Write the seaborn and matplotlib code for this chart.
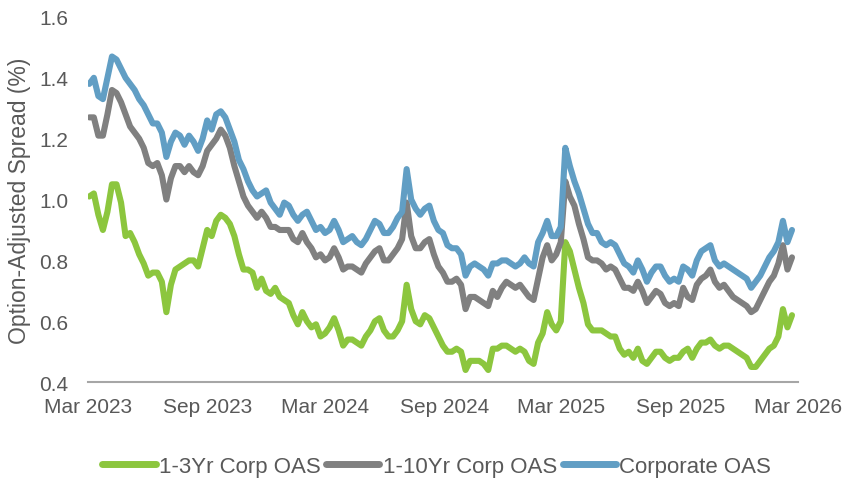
import pandas as pd
import matplotlib.pyplot as plt
import matplotlib.dates as mdates
import seaborn as sns

# weekly readings, Mar 2023 - Feb 2026
short_oas = [1.01, 1.02, 0.95, 0.90, 0.96, 1.05, 1.05, 0.99, 0.88, 0.89,
             0.86, 0.82, 0.79, 0.75, 0.76, 0.76, 0.73, 0.63, 0.72, 0.77,
             0.78, 0.79, 0.80, 0.80, 0.78, 0.84, 0.90, 0.88, 0.93, 0.95,
             0.94, 0.92, 0.88, 0.82, 0.77, 0.77, 0.76, 0.71, 0.74, 0.70,
             0.69, 0.71, 0.68, 0.67, 0.66, 0.62, 0.59, 0.63, 0.60, 0.58,
             0.59, 0.55, 0.56, 0.58, 0.61, 0.57, 0.52, 0.54, 0.54, 0.53,
             0.52, 0.55, 0.57, 0.60, 0.61, 0.57, 0.55, 0.55, 0.57, 0.60,
             0.72, 0.64, 0.60, 0.59, 0.62, 0.61, 0.58, 0.55, 0.52, 0.50,
             0.50, 0.51, 0.50, 0.44, 0.47, 0.47, 0.47, 0.46, 0.44, 0.51,
             0.51, 0.52, 0.52, 0.51, 0.50, 0.51, 0.50, 0.47, 0.46, 0.53,
             0.56, 0.63, 0.59, 0.57, 0.60, 0.86, 0.83, 0.77, 0.71, 0.66,
             0.59, 0.57, 0.57, 0.57, 0.56, 0.55, 0.55, 0.51, 0.49, 0.50,
             0.48, 0.51, 0.47, 0.46, 0.48, 0.50, 0.50, 0.48, 0.47, 0.48,
             0.48, 0.50, 0.51, 0.48, 0.51, 0.53, 0.53, 0.54, 0.52, 0.51,
             0.52, 0.52, 0.51, 0.50, 0.49, 0.48, 0.45, 0.45, 0.47, 0.49,
             0.51, 0.52, 0.55, 0.64, 0.58, 0.62]

mid_oas = [1.27, 1.27, 1.21, 1.21, 1.28, 1.36, 1.35, 1.32, 1.28, 1.24,
           1.22, 1.20, 1.17, 1.12, 1.11, 1.12, 1.08, 1.00, 1.07, 1.11,
           1.11, 1.09, 1.11, 1.09, 1.08, 1.11, 1.16, 1.18, 1.20, 1.23,
           1.21, 1.17, 1.11, 1.06, 1.01, 0.98, 0.96, 0.94, 0.96, 0.94,
           0.91, 0.91, 0.90, 0.90, 0.90, 0.87, 0.86, 0.89, 0.86, 0.84,
           0.81, 0.82, 0.80, 0.81, 0.84, 0.81, 0.77, 0.78, 0.78, 0.77,
           0.76, 0.79, 0.81, 0.83, 0.84, 0.80, 0.80, 0.82, 0.84, 0.87,
           0.99, 0.88, 0.84, 0.84, 0.86, 0.87, 0.82, 0.78, 0.76, 0.73,
           0.73, 0.74, 0.72, 0.64, 0.68, 0.68, 0.67, 0.66, 0.65, 0.70,
           0.68, 0.71, 0.73, 0.72, 0.71, 0.72, 0.70, 0.68, 0.67, 0.74,
           0.81, 0.85, 0.80, 0.82, 0.86, 1.06, 1.01, 0.98, 0.92, 0.87,
           0.81, 0.80, 0.80, 0.79, 0.77, 0.78, 0.77, 0.74, 0.71, 0.71,
           0.70, 0.73, 0.70, 0.66, 0.68, 0.70, 0.69, 0.66, 0.65, 0.66,
           0.65, 0.71, 0.68, 0.67, 0.72, 0.74, 0.75, 0.77, 0.73, 0.71,
           0.72, 0.70, 0.68, 0.67, 0.66, 0.65, 0.63, 0.64, 0.67, 0.70,
           0.73, 0.75, 0.79, 0.85, 0.77, 0.81]

corp_oas = [1.38, 1.40, 1.34, 1.33, 1.40, 1.47, 1.46, 1.43, 1.40, 1.38,
            1.36, 1.33, 1.31, 1.28, 1.25, 1.25, 1.22, 1.14, 1.19, 1.22,
            1.21, 1.18, 1.21, 1.19, 1.16, 1.20, 1.26, 1.23, 1.28, 1.29,
            1.27, 1.23, 1.19, 1.13, 1.10, 1.06, 1.03, 1.01, 1.02, 1.03,
            0.99, 0.97, 0.95, 0.99, 0.98, 0.95, 0.93, 0.95, 0.96, 0.93,
            0.90, 0.91, 0.89, 0.90, 0.93, 0.90, 0.86, 0.87, 0.88, 0.86,
            0.85, 0.87, 0.90, 0.93, 0.92, 0.89, 0.89, 0.91, 0.94, 0.96,
            1.10, 1.00, 0.97, 0.95, 0.97, 0.98, 0.93, 0.90, 0.89, 0.85,
            0.84, 0.84, 0.82, 0.75, 0.78, 0.79, 0.78, 0.77, 0.75, 0.79,
            0.79, 0.80, 0.80, 0.79, 0.78, 0.79, 0.81, 0.79, 0.78, 0.86,
            0.89, 0.93, 0.88, 0.88, 0.91, 1.17, 1.11, 1.06, 1.02, 0.97,
            0.92, 0.89, 0.89, 0.86, 0.85, 0.86, 0.85, 0.82, 0.79, 0.78,
            0.76, 0.80, 0.77, 0.73, 0.76, 0.78, 0.78, 0.75, 0.73, 0.74,
            0.73, 0.78, 0.77, 0.75, 0.80, 0.83, 0.84, 0.85, 0.80, 0.78,
            0.79, 0.78, 0.77, 0.76, 0.75, 0.74, 0.71, 0.73, 0.75, 0.78,
            0.81, 0.83, 0.86, 0.93, 0.86, 0.90]

series_names = ["1-3Yr Corp OAS", "1-10Yr Corp OAS", "Corporate OAS"]
colors = ["#8cc63e", "#808080", "#619ec4"]

dates = pd.date_range("2023-03-03", periods=len(corp_oas), freq="7D")

df = pd.DataFrame({"date": dates, series_names[0]: short_oas,
                   series_names[1]: mid_oas, series_names[2]: corp_oas})
long_df = df.melt(id_vars="date", var_name="series", value_name="oas")

sns.set_style("white")
plt.rcParams["font.family"] = ["Liberation Sans", "DejaVu Sans"]

fig = plt.figure(figsize=(8.43, 4.85), dpi=100)
ax = fig.add_axes([0.1044, 0.21, 0.842, 0.753])

sns.lineplot(data=long_df, x="date", y="oas", hue="series",
             hue_order=series_names, palette=colors, linewidth=4.4, ax=ax)

ax.set_ylim(0.4, 1.6)
ax.set_yticks([0.4, 0.6, 0.8, 1.0, 1.2, 1.4, 1.6])
ax.set_yticklabels(["0.4", "0.6", "0.8", "1.0", "1.2", "1.4", "1.6"])
ax.set_xlim(pd.Timestamp("2023-03-01"), pd.Timestamp("2026-03-01"))
ax.xaxis.set_major_locator(mdates.MonthLocator(bymonth=[3, 9]))
ax.xaxis.set_major_formatter(mdates.DateFormatter("%b %Y"))

ax.tick_params(axis="both", length=0, labelsize=15, colors="#595959")
ax.tick_params(axis="x", pad=11)
ax.tick_params(axis="y", pad=14)
ax.set_xlabel("")
ax.set_ylabel("Option-Adjusted Spread (%)", fontsize=16.5, color="#595959",
              labelpad=6)

for s in ["top", "right", "left"]:
    ax.spines[s].set_visible(False)
ax.spines["bottom"].set_color("#a6a6a6")
ax.spines["bottom"].set_linewidth(1.5)

sns.move_legend(ax, "center", bbox_to_anchor=(0.518, 0.037),
                bbox_transform=fig.transFigure, ncol=3, title=None,
                frameon=False, fontsize=16, handlelength=2.4,
                handletextpad=0.15, columnspacing=0.25)
for t in ax.get_legend().get_texts():
    t.set_color("#595959")
for h in ax.get_legend().legend_handles:
    h.set_linewidth(5)

fig.savefig("out.png", dpi=100)
